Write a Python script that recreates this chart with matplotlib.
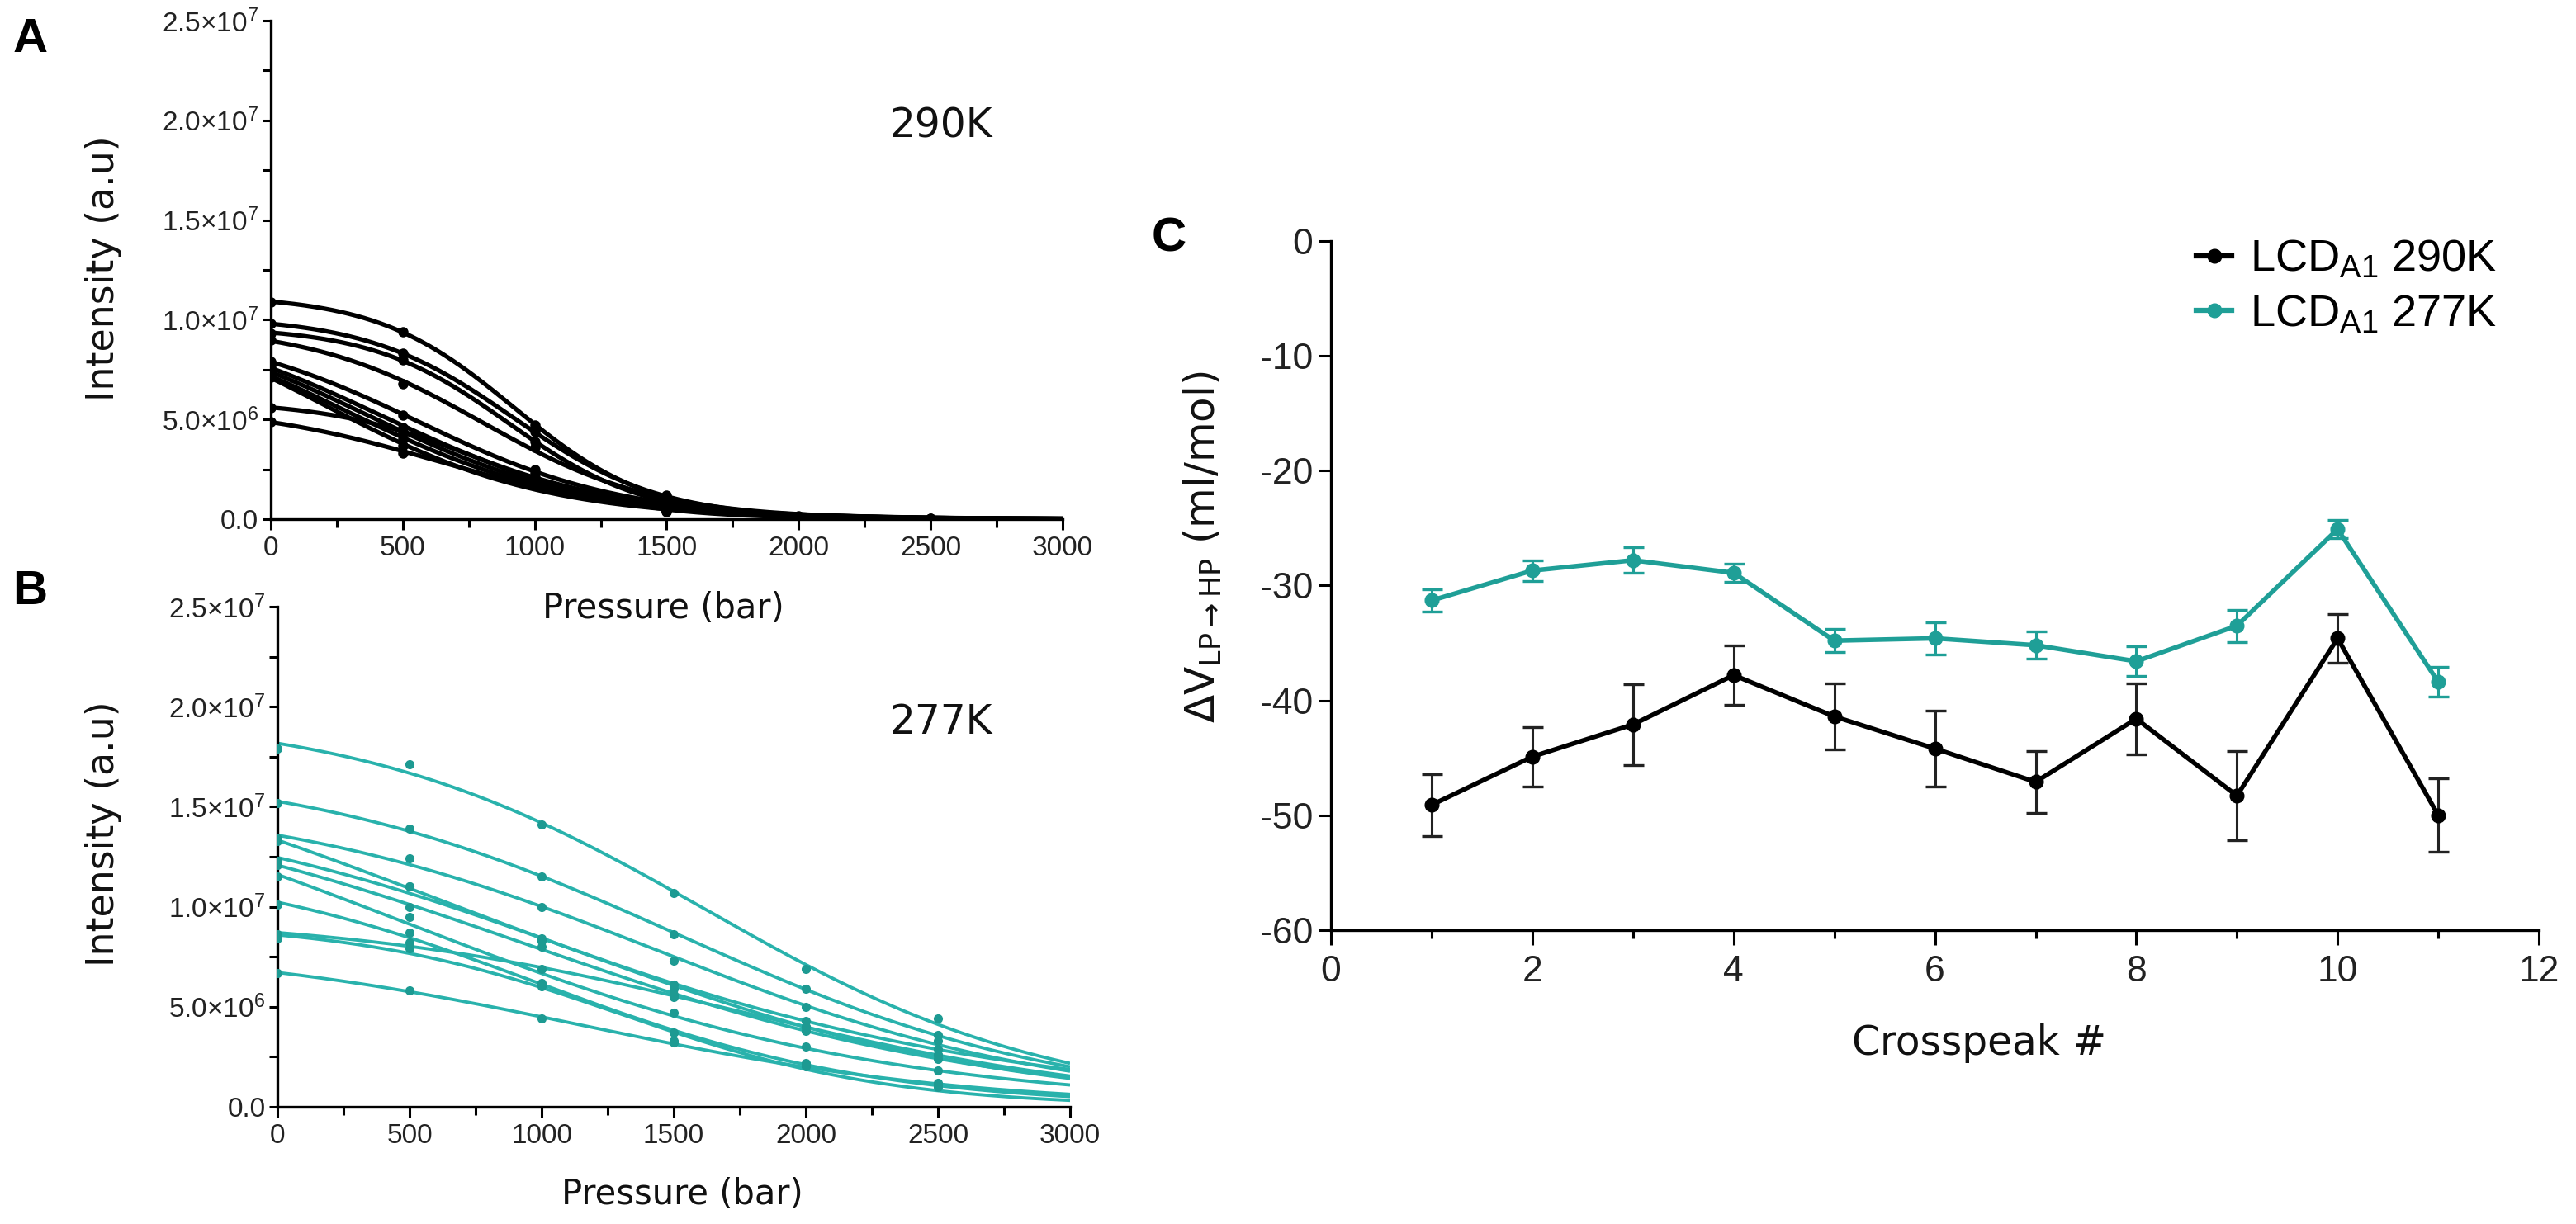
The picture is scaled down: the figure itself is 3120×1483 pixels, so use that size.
import matplotlib
matplotlib.use('Agg')

import numpy as np
import matplotlib.pyplot as plt
from matplotlib.lines import Line2D
from matplotlib.ticker import MultipleLocator, FixedLocator

plt.rcParams['font.family'] = ['Liberation Sans', 'DejaVu Sans']
plt.rcParams['mathtext.fontset'] = 'custom'
plt.rcParams['mathtext.rm'] = 'Liberation Sans'
plt.rcParams['mathtext.it'] = 'Liberation Sans:italic'
plt.rcParams['mathtext.bf'] = 'Liberation Sans:bold'
plt.rcParams['axes.unicode_minus'] = False

# ---- panel A / B: peak intensity vs pressure (x1e6), one row per crosspeak ----
pressure = np.array([0, 500, 1000, 1500, 2000, 2500])

int_290K = [
    [10.9, 9.4, 4.7, 1.2, 0.15, 0.02],
    [9.8, 8.3, 4.4, 1.1, 0.12, 0.02],
    [9.3, 8.0, 3.9, 1.0, 0.10, 0.01],
    [9.0, 6.8, 3.6, 0.9, 0.10, 0.01],
    [7.9, 5.2, 2.5, 0.8, 0.10, 0.01],
    [7.6, 4.6, 2.3, 0.6, 0.08, 0.01],
    [7.4, 4.3, 2.1, 0.5, 0.06, 0.0],
    [7.2, 4.0, 1.9, 0.5, 0.05, 0.0],
    [7.1, 3.7, 1.7, 0.35, 0.04, 0.0],
    [5.6, 4.4, 2.0, 0.45, 0.05, 0.0],
    [4.9, 3.3, 1.8, 0.4, 0.05, 0.0],
]

int_277K = [
    [17.9, 17.1, 14.1, 10.7, 6.9, 4.4],
    [15.2, 13.9, 11.5, 8.6, 5.9, 3.6],
    [13.4, 12.4, 10.0, 7.3, 5.0, 3.3],
    [13.3, 11.0, 8.4, 6.1, 4.3, 2.9],
    [12.3, 11.0, 8.3, 5.9, 4.0, 2.6],
    [12.1, 10.0, 8.0, 5.6, 3.8, 2.4],
    [11.5, 9.5, 6.2, 4.7, 3.0, 1.8],
    [10.1, 8.7, 6.0, 3.7, 2.2, 1.2],
    [8.6, 8.2, 6.9, 5.5, 4.0, 2.6],
    [8.4, 7.9, 6.1, 3.3, 2.1, 1.0],
    [6.7, 5.8, 4.4, 3.2, 2.0, 1.1],
]

# ---- panel C: delta V per crosspeak ----
crosspeak = np.arange(1, 12)
dv_290K = [-49.1, -44.9, -42.1, -37.8, -41.4, -44.2, -47.1, -41.6, -48.3, -34.6, -50.0]
dv_290K_err = [2.7, 2.6, 3.5, 2.6, 2.9, 3.3, 2.7, 3.1, 3.9, 2.1, 3.2]
dv_277K = [-31.3, -28.7, -27.8, -28.9, -34.8, -34.6, -35.2, -36.6, -33.5, -25.1, -38.4]
dv_277K_err = [1.0, 0.9, 1.1, 0.8, 1.0, 1.4, 1.2, 1.3, 1.4, 0.8, 1.3]

ytick_vals = [0, 5e6, 1e7, 1.5e7, 2e7, 2.5e7]
ytick_text = ['0.0', '5.0×10$^{6}$', '1.0×10$^{7}$', '1.5×10$^{7}$',
              '2.0×10$^{7}$', '2.5×10$^{7}$']

BLACK = '#000000'
TEAL_LINE = '#29b2ac'
TEAL_DOT = '#1d9a92'
TEAL_C = '#1f9f97'
TICK_COLOR = '#222222'


def two_state_fit(p, y):
    """Least-squares fit of I0 / (1 + exp((p - pm) / w)) by grid search."""
    pm = np.linspace(-2000, 5000, 351)[:, None, None]
    w = np.linspace(50, 3000, 296)[None, :, None]
    s = 1.0 / (1.0 + np.exp((p[None, None, :] - pm) / w))
    i0 = (s * y).sum(-1) / (s * s).sum(-1)
    err = ((y - i0[..., None] * s) ** 2).sum(-1)
    k = np.unravel_index(err.argmin(), err.shape)
    return i0[k], pm.ravel()[k[0]], w.ravel()[k[1]]


def style_axes(ax, xmaj_len, ymaj_len, label_size, xpad, ypad):
    for side in ('top', 'right'):
        ax.spines[side].set_visible(False)
    for side in ('left', 'bottom'):
        ax.spines[side].set_linewidth(2.4)
    ax.tick_params(axis='x', which='major', direction='out', length=xmaj_len,
                   width=2.2, labelsize=label_size, pad=xpad, labelcolor=TICK_COLOR)
    ax.tick_params(axis='y', which='major', direction='out', length=ymaj_len,
                   width=2.2, labelsize=label_size, pad=ypad, labelcolor=TICK_COLOR)
    ax.tick_params(which='minor', direction='out', length=7, width=2.2)


def intensity_panel(ax, rows, line_color, dot_color, lw, ms):
    pp = np.linspace(0, 3000, 400)
    for row in rows:
        y = np.array(row) * 1e6
        i0, pm, w = two_state_fit(pressure.astype(float), y)
        ax.plot(pp, i0 / (1.0 + np.exp((pp - pm) / w)), color=line_color, lw=lw,
                solid_capstyle='butt', zorder=2)
        ax.plot(pressure, y, 'o', color=dot_color, ms=ms, mec='none', zorder=3)
    ax.set_xlim(0, 3000)
    ax.set_ylim(0, 2.5e7)
    ax.xaxis.set_major_locator(MultipleLocator(500))
    ax.xaxis.set_minor_locator(MultipleLocator(250))
    ax.yaxis.set_major_locator(FixedLocator(ytick_vals))
    ax.yaxis.set_minor_locator(MultipleLocator(2.5e6))
    ax.set_yticklabels(ytick_text)
    style_axes(ax, 9.4, 7.5, 24, 5, 3)


fig = plt.figure(figsize=(31.2, 14.83), dpi=100)

axA = fig.add_axes([0.1051, 0.5759, 0.3074, 0.4072])
intensity_panel(axA, int_290K, BLACK, BLACK, 3.8, 9)

axB = fig.add_axes([0.1077, 0.0958, 0.3077, 0.4086])
intensity_panel(axB, int_277K, TEAL_LINE, TEAL_DOT, 2.8, 8)

axC = fig.add_axes([0.5167, 0.2401, 0.4689, 0.5631])
axC.errorbar(crosspeak, dv_290K, yerr=dv_290K_err, color=BLACK, ecolor='#222222',
             marker='o', ms=12, lw=4.0, elinewidth=2.2, capsize=9, capthick=2.4, zorder=3)
axC.errorbar(crosspeak, dv_277K, yerr=dv_277K_err, color=TEAL_C, ecolor=TEAL_C,
             marker='o', ms=12, lw=4.0, elinewidth=2.2, capsize=9, capthick=2.4, zorder=3)
axC.set_xlim(0, 12)
axC.set_ylim(-60, 0)
axC.xaxis.set_major_locator(MultipleLocator(2))
axC.xaxis.set_minor_locator(MultipleLocator(1))
axC.yaxis.set_major_locator(MultipleLocator(10))
style_axes(axC, 13, 11, 32, 9, 5)

handles = [
    Line2D([], [], color=BLACK, marker='o', ms=12, lw=4.5),
    Line2D([], [], color=TEAL_C, marker='o', ms=12, lw=4.5),
]
axC.legend(handles, ['LCD$_{\\mathrm{A1}}$ 290K', 'LCD$_{\\mathrm{A1}}$ 277K'],
           loc='upper left', bbox_to_anchor=(0.8526, 0.805),
           bbox_transform=fig.transFigure, frameon=False, fontsize=39,
           handlelength=0.8, handletextpad=0.4, labelspacing=0.3,
           borderpad=0, borderaxespad=0)

# axis titles and annotations
dv = dict(family='DejaVu Sans', color='#111111')
fig.text(0.2574, 0.503, 'Pressure (bar)', ha='center', va='center', fontsize=30, **dv)
fig.text(0.265, 0.0243, 'Pressure (bar)', ha='center', va='center', fontsize=30, **dv)
fig.text(0.0401, 0.7809, 'Intensity (a.u)', ha='center', va='center',
         rotation=90, fontsize=33, **dv)
fig.text(0.0401, 0.319, 'Intensity (a.u)', ha='center', va='center',
         rotation=90, fontsize=33, **dv)
fig.text(0.7683, 0.1477, 'Crosspeak #', ha='center', va='center', fontsize=35, **dv)
fig.text(0.467, 0.553, r'$\Delta$V$_{\mathrm{LP}\rightarrow\mathrm{HP}}$ (ml/mol)',
         ha='center', va='center', rotation=90, fontsize=36,
         math_fontfamily='dejavusans', **dv)
fig.text(0.3654, 0.8975, '290K', ha='center', va='center', fontsize=35, **dv)
fig.text(0.3654, 0.41, '277K', ha='center', va='center', fontsize=35, **dv)

for letter, xy in (('A', (0.005, 0.9676)), ('B', (0.005, 0.5165)), ('C', (0.447, 0.805))):
    fig.text(xy[0], xy[1], letter, ha='left', va='center', fontsize=42, fontweight='bold')

fig.savefig('out.png', dpi=100, facecolor='white')
plt.close(fig)
